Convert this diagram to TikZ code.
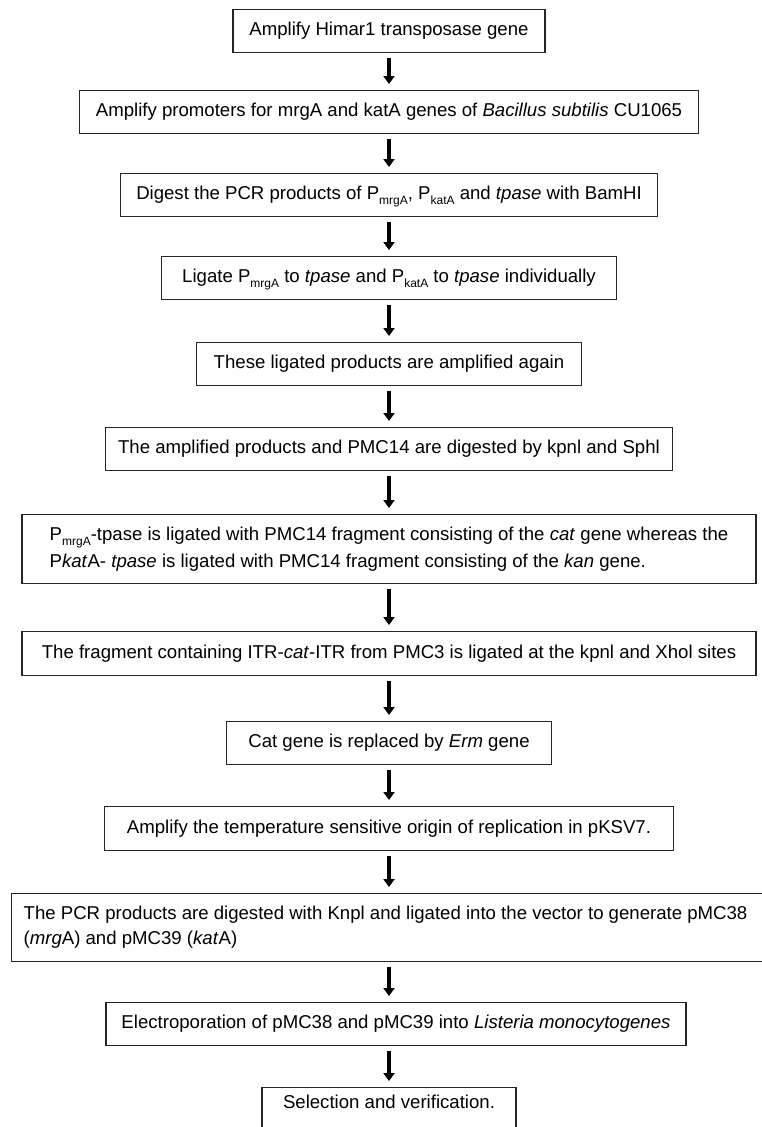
\documentclass[tikz,border=0pt]{standalone}
\usepackage{fontspec}
\setmainfont{Liberation Sans}
\usetikzlibrary{arrows.meta}
\newcommand{\subtxt}[1]{\raisebox{-0.25em}{\fontsize{12}{12}\selectfont #1}}
\tikzset{
  box/.style={draw=black!85, line width=1.3pt, minimum height=43pt, inner xsep=8pt, inner ysep=0pt,
    font=\fontsize{18.6}{27}\selectfont, text height=13pt, text depth=4pt, anchor=north},
  arr/.style={line width=4.5pt, -{Triangle[width=11pt,length=8pt]}, shorten <=5pt, shorten >=6pt}
}
\begin{document}
\begin{tikzpicture}[x=1pt,y=-1pt]
\useasboundingbox (0,0) rectangle (762,1127);
\node[box, minimum width=312pt] (b1) at (389,9) {Amplify Himar1 transposase gene};
\node[box, minimum width=619pt] (b2) at (389,90) {Amplify promoters for mrgA and katA genes of \textit{Bacillus subtilis} CU1065};
\node[box, minimum width=537pt] (b3) at (389,173) {Digest the PCR products of P\subtxt{mrgA}, P\subtxt{katA} and \textit{tpase} with BamHI};
\node[box, minimum width=455pt] (b4) at (389,256) {Ligate P\subtxt{mrgA} to \textit{tpase} and P\subtxt{katA} to \textit{tpase} individually};
\node[box, minimum width=385pt] (b5) at (389,342) {These ligated products are amplified again};
\node[box, minimum width=567pt] (b6) at (389,427) {The amplified products and PMC14 are digested by kpnl and Sphl};
\node[box, minimum width=734pt, minimum height=69pt, align=left, text height=, text depth=] (b7) at (389,514)
  {P\subtxt{mrgA}-tpase is ligated with PMC14 fragment consisting of the \textit{cat} gene whereas the\\
   P\textit{kat}A- \textit{tpase} is ligated with PMC14 fragment consisting of the \textit{kan} gene.};
\node[box, minimum width=734pt, minimum height=44pt] (b8) at (389,631) {The fragment containing ITR-\textit{cat}-ITR from PMC3 is ligated at the kpnl and Xhol sites};
\node[box, minimum width=325pt] (b9) at (389,721) {Cat gene is replaced by \textit{Erm} gene};
\node[box, minimum width=569pt, minimum height=44pt] (b10) at (389,806) {Amplify the temperature sensitive origin of replication in pKSV7.};
\node[box, anchor=north west, align=left, inner xsep=12pt, minimum height=68pt,
  font=\fontsize{18.6}{25}\selectfont, text height=, text depth=] (b11) at (11,893)
  {The PCR products are digested with Knpl and ligated into the vector to generate pMC38\hspace*{20pt}\\
   (\textit{mrg}A) and pMC39 (\textit{kat}A)};
\node[box, minimum width=580pt] (b12) at (396,1002) {Electroporation of pMC38 and pMC39 into \textit{Listeria monocytogenes}};
\node[box, minimum width=254pt, minimum height=0pt, inner ysep=6pt, text height=15pt, text depth=40pt] (b13) at (389,1087) {Selection and verification.};
\draw[arr] (b1.south) -- (b2.north);
\draw[arr] (b2.south) -- (b3.north);
\draw[arr] (b3.south) -- (b4.north);
\draw[arr] (b4.south) -- (b5.north);
\draw[arr] (b5.south) -- (b6.north);
\draw[arr] (b6.south) -- (b7.north);
\draw[arr] (b7.south) -- (b8.north);
\draw[arr] (b8.south) -- (b9.north);
\draw[arr] (b9.south) -- (b10.north);
\draw[arr] (b10.south) -- (b11.north -| b10.south);
\draw[arr] (b11.south -| b10.south) -- (b12.north -| b10.south);
\draw[arr] (b12.south -| b13.north) -- (b13.north);
\end{tikzpicture}
\end{document}
